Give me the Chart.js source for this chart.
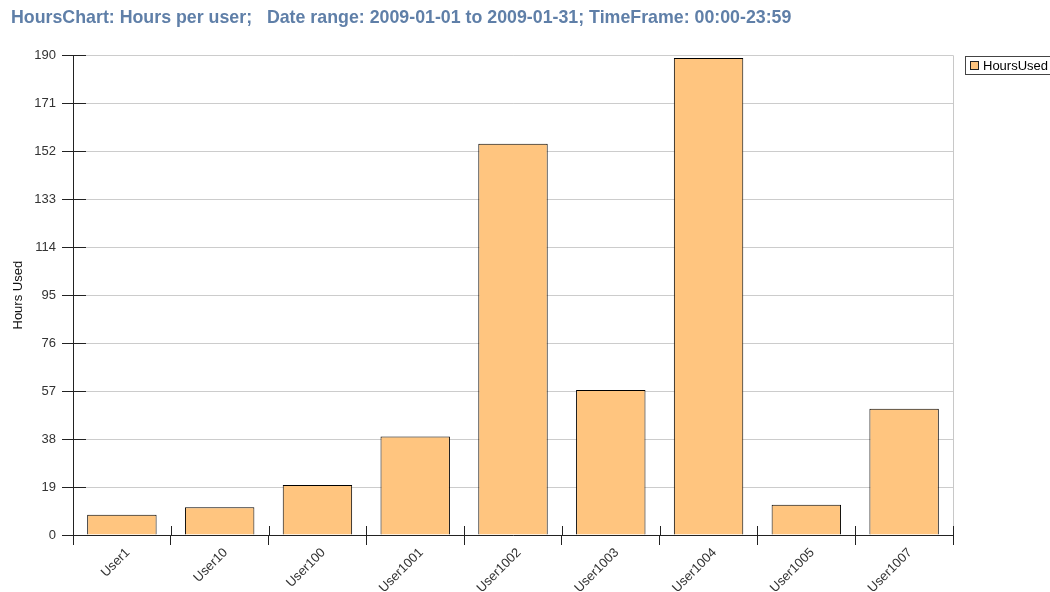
<!DOCTYPE html>
<html>
<head>
<meta charset="utf-8">
<script src="https://cdn.jsdelivr.net/npm/chart.js@4/dist/chart.umd.min.js"></script>
<style>
  html, body { margin: 0; padding: 0; background: #fff; overflow: hidden; }
  #wrap { width: 1050px; height: 592px; position: relative; }
  #legend {
    position: absolute; left: 965px; top: 56px; width: 90px; height: 19px;
    border: 1px solid #444; box-sizing: border-box;
    font: 13px "Liberation Sans", Arial, sans-serif; color: #000;
    line-height: 17px; white-space: nowrap;
  }
  #legend span.box {
    display: inline-block; width: 7px; height: 7px; background: #ffc57f;
    border: 1px solid #222; margin: 0 4px 0 4px; vertical-align: 0px;
  }
</style>
</head>
<body>
<div id="wrap">
  <canvas id="hoursChart" width="1050" height="592"></canvas>
  <div id="legend"><span class="box"></span>HoursUsed</div>
</div>
<script>
// values
const users = ['User1', 'User10', 'User100', 'User1001', 'User1002', 'User1003', 'User1004', 'User1005', 'User1007'];
const hoursUsed = [8, 11, 19.8, 39, 155, 57.4, 189, 12, 50];
const yTicks = [0, 19, 38, 57, 76, 95, 114, 133, 152, 171, 190];

Chart.defaults.font.family = '"Liberation Sans", Arial, sans-serif';
Chart.defaults.font.size = 13;
Chart.defaults.color = '#333';

// crossing tick marks and the light right frame line
const frame = {
  id: 'frame',
  afterDraw(chart) {
    const ctx = chart.ctx;
    const a = chart.chartArea;
    const x = chart.scales.x, y = chart.scales.y;
    ctx.save();
    ctx.lineWidth = 1;
    ctx.strokeStyle = '#c8c8c8';
    ctx.beginPath();
    ctx.moveTo(Math.round(a.right) + 0.5, a.top);
    ctx.lineTo(Math.round(a.right) + 0.5, a.bottom);
    ctx.stroke();

    ctx.strokeStyle = '#222';
    ctx.beginPath();
    yTicks.forEach(v => {
      const py = Math.round(y.getPixelForValue(v)) + 0.5;
      ctx.moveTo(a.left, py);
      ctx.lineTo(a.left + 13, py);
    });
    for (let i = 0; i <= users.length; i++) {
      const px = Math.round(x.getPixelForValue(i - 0.5)) + 0.5;
      ctx.moveTo(px, a.bottom);
      ctx.lineTo(px, a.bottom - 9);
    }
    ctx.stroke();
    ctx.restore();
  }
};

new Chart(document.getElementById('hoursChart'), {
  type: 'bar',
  data: {
    labels: users,
    datasets: [{
      label: 'HoursUsed',
      data: hoursUsed,
      backgroundColor: '#ffc57f',
      borderColor: '#000',
      borderWidth: 1,
      categoryPercentage: 1,
      barPercentage: 0.71
    }]
  },
  options: {
    responsive: false,
    animation: false,
    devicePixelRatio: 1,
    layout: { padding: { left: 11, right: 97, top: 0, bottom: 0 } },
    plugins: {
      title: {
        display: true,
        align: 'start',
        text: 'HoursChart: Hours per user;   Date range: 2009-01-01 to 2009-01-31; TimeFrame: 00:00-23:59',
        color: '#5f7fa8',
        font: { size: 17.8, weight: 'bold' },
        padding: { top: 7, bottom: 27 }
      },
      legend: { display: false },
      tooltip: { enabled: false }
    },
    scales: {
      x: {
        afterFit: s => { s.height = 57; },
        grid: {
          display: true,
          drawOnChartArea: false,
          offset: true,
          tickColor: '#222',
          tickLength: 10
        },
        border: { color: '#222' },
        ticks: { minRotation: 45, maxRotation: 45, color: '#333', font: { size: 13 }, padding: 0, labelOffset: 6 }
      },
      y: {
        min: 0,
        max: 190,
        z: 1,
        afterFit: s => { s.width = 62; },
        afterBuildTicks: axis => { axis.ticks = yTicks.map(v => ({ value: v })); },
        grid: {
          color: 'rgba(0,0,0,0.2)',
          tickColor: '#222',
          tickLength: 11
        },
        border: { color: '#222' },
        ticks: { color: '#333', font: { size: 13 }, padding: 6 },
        title: {
          display: true,
          text: 'Hours Used',
          color: '#111',
          font: { size: 13 },
          padding: { top: 0, bottom: 8 }
        }
      }
    }
  },
  plugins: [frame]
});
</script>
</body>
</html>
